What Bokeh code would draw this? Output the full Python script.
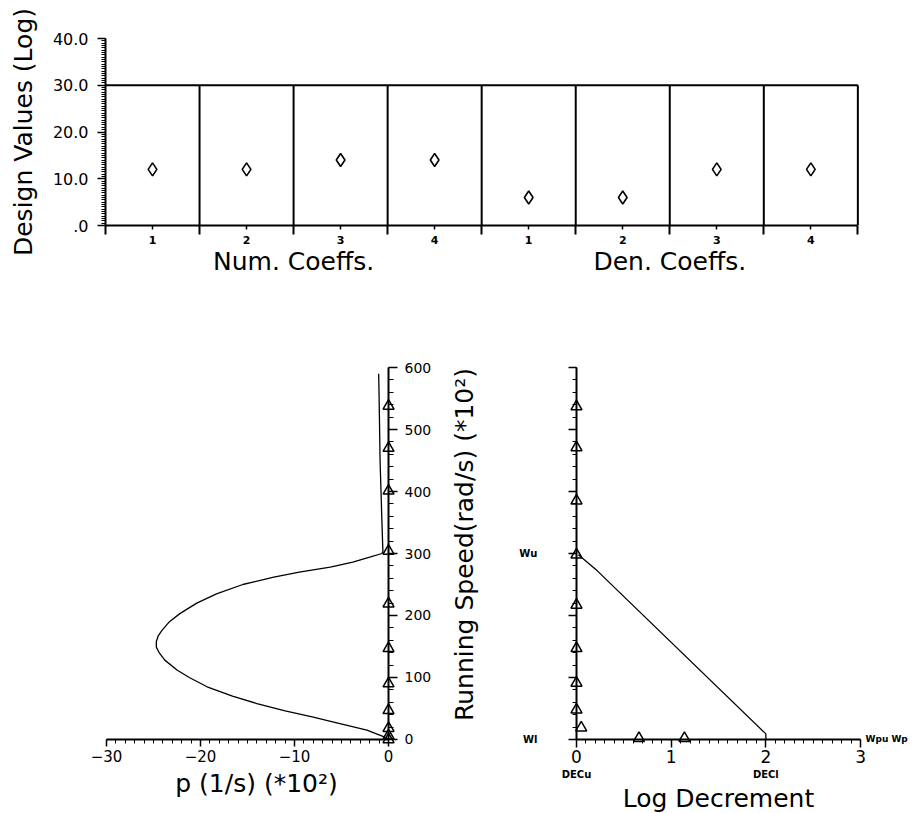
from bokeh.plotting import figure
from bokeh.models import Range1d, LinearAxis, FixedTicker
from bokeh.layouts import column, row
from bokeh.embed import file_html
from bokeh.resources import INLINE

# ---------------- data ----------------
coeff_positions = [1, 2, 3, 4, 5, 6, 7, 8]
coeff_tick_labels = ["1", "2", "3", "4", "1", "2", "3", "4"]
num_coeff_values = [12, 12, 14, 14]
den_coeff_values = [6, 6, 12, 12]
group_centers = [2.5, 6.5]
group_labels = ["Num. Coeffs.", "Den. Coeffs."]
design_ticks = [0, 10, 20, 30, 40]
design_tick_labels = [".0", "10.0", "20.0", "30.0", "40.0"]
design_box_top = 30

speed_ticks = [0, 100, 200, 300, 400, 500, 600]
speed_tick_labels = ["0", "100", "200", "300", "400", "500", "600"]
p_ticks = [-30, -20, -10, 0]
p_tick_labels = ["\u221230", "\u221220", "\u221210", "0"]

root_speed = [0, 5, 15, 31, 36, 46, 58, 70, 85, 100, 112, 128, 140, 149, 158, 167, 176,
              190, 203, 220, 235, 250, 262, 270, 278, 286, 294, 300, 303,
              350, 400, 450, 500, 550, 590]
root_p = [0, -0.6, -2.3, -6.6, -8.0, -11.0, -14.0, -16.6, -19.3, -21.2, -22.5, -23.8,
          -24.4, -24.7, -24.7, -24.5, -24.1, -23.3, -22.2, -20.4, -18.3, -15.5, -12.2,
          -9.5, -6.2, -3.8, -2.0, -0.7, -0.6, -0.7, -0.8, -0.9, -0.95, -1.0, -1.05]
eig_speed_left = [0, 6, 18, 47, 90, 147, 219, 304, 401, 470, 538]
eig_p_left = [0, 0, 0, 0, 0, 0, 0, 0, 0, 0, 0]

dec_ticks = [0, 1, 2, 3]
dec_tick_labels = ["0", "1", "2", "3"]
dec_limit_ticks = [0, 2]
dec_limit_labels = ["DECu", "DECl"]
speed_limit_ticks = [0, 300]
speed_limit_labels = ["Wl", "Wu"]
dec_line_x = [0.02, 0.22, 2.0, 2.0]
dec_line_speed = [298, 272, 9, 0]
eig_dec = [0.05, 0, 0, 0, 0, 0, 0, 0, 0, 0.66, 1.14]
eig_dec_speed = [19, 48, 91, 147, 217, 298, 385, 471, 537, 2, 2]

FONT = "DejaVu Sans"
BLACK = "#000000"
TITLE_SIZE = "25px"


def base_fig(**kw):
    p = figure(output_backend="svg", toolbar_location=None, tools="",
               background_fill_color="white", border_fill_color="white", **kw)
    p.outline_line_color = None
    p.xgrid.visible = False
    p.ygrid.visible = False
    return p


def style_axis(ax, size="15px", label_size=TITLE_SIZE):
    ax.axis_line_color = BLACK
    ax.axis_line_width = 2
    ax.major_tick_line_color = BLACK
    ax.major_tick_line_width = 1.5
    ax.minor_tick_line_color = BLACK
    ax.minor_tick_line_width = 1
    ax.major_tick_in = 0
    ax.minor_tick_in = 0
    ax.major_label_text_font = FONT
    ax.major_label_text_font_size = size
    ax.major_label_text_color = BLACK
    ax.axis_label_text_font = FONT
    ax.axis_label_text_font_size = label_size
    ax.axis_label_text_font_style = "normal"
    ax.axis_label_text_color = BLACK


def label_only(ax):
    ax.axis_line_color = None
    ax.major_tick_line_color = None
    ax.minor_tick_line_color = None
    ax.major_tick_out = 0
    ax.minor_tick_out = 0


def title_axis(label, location, bounds):
    """An axis that carries only its title (no line, ticks or tick labels)."""
    ax = LinearAxis(ticker=FixedTicker(ticks=[], minor_ticks=[]))
    style_axis(ax)
    label_only(ax)
    ax.fixed_location = location
    ax.bounds = bounds
    ax.axis_label = label
    ax.axis_label_standoff = 0
    return ax


# ---------------- top chart ----------------
top = base_fig(frame_width=758, frame_height=187,
               x_range=Range1d(0.5, 8.56), y_range=Range1d(0, 40),
               min_border_left=105, min_border_right=53,
               min_border_top=38, min_border_bottom=68)

xa = top.xaxis[0]
style_axis(xa, size="11px")
xa.bounds = (0.5, 8.5)
xa.ticker = FixedTicker(ticks=coeff_positions,
                        minor_ticks=[c - 0.5 for c in coeff_positions] + [coeff_positions[-1] + 0.5])
xa.major_label_overrides = {c: l for c, l in zip(coeff_positions, coeff_tick_labels)}
xa.major_label_text_font_style = "bold"
xa.major_tick_out = 4
xa.minor_tick_out = 9
xa.minor_tick_line_width = 2
xa.major_label_standoff = 1

gx = LinearAxis(ticker=FixedTicker(ticks=group_centers, minor_ticks=[]))
style_axis(gx, size=TITLE_SIZE)
label_only(gx)
gx.major_label_standoff = 0
gx.major_label_overrides = {c: l for c, l in zip(group_centers, group_labels)}
top.add_layout(gx, "below")

ya = top.yaxis[0]
style_axis(ya, size="16px")
ya.ticker = FixedTicker(ticks=design_ticks, minor_ticks=[i * 0.5 for i in range(81)])
ya.major_label_overrides = {t: l for t, l in zip(design_ticks, design_tick_labels)}
ya.major_tick_out = 8
ya.minor_tick_out = 4
ya.major_label_standoff = 9
ya.axis_label = "Design Values (Log)"
ya.axis_label_standoff = 12

top.line(x=[coeff_positions[0] - 0.5, coeff_positions[-1] + 0.5],
         y=[design_box_top, design_box_top], line_color=BLACK, line_width=2)
sep_x = [c + 0.5 for c in coeff_positions]
top.segment(x0=sep_x, y0=[0] * len(sep_x), x1=sep_x, y1=[design_box_top] * len(sep_x),
            line_color=BLACK, line_width=2)
top.scatter(x=coeff_positions[:4], y=num_coeff_values, marker="diamond", size=13,
            fill_color=None, line_color=BLACK, line_width=1.6)
top.scatter(x=coeff_positions[4:], y=den_coeff_values, marker="diamond", size=13,
            fill_color=None, line_color=BLACK, line_width=1.6)

# shared vertical scale for the bottom charts (speed, *10^2 rad/s)
SPEED_RANGE = (-119.4, 719.4)

# ---------------- bottom left: real part of roots ----------------
left = base_fig(frame_width=496, frame_height=520,
                x_range=Range1d(-40.85, 11.91), y_range=Range1d(*SPEED_RANGE),
                y_axis_location="right",
                min_border_left=4, min_border_right=0,
                min_border_top=0, min_border_bottom=0)
lx = left.xaxis[0]
style_axis(lx, size="15px")
lx.fixed_location = 0
lx.bounds = (-30, 0)
lx.ticker = FixedTicker(ticks=p_ticks, minor_ticks=list(range(-30, 1)))
lx.major_label_overrides = {t: l for t, l in zip(p_ticks, p_tick_labels)}
lx.major_tick_out = 7
lx.minor_tick_out = 4
lx.major_label_standoff = 4
left.add_layout(title_axis("p (1/s) (*10\u00b2)", -47, (-29, 1)), "below")

ly = left.yaxis[0]
style_axis(ly, size="14px")
ly.fixed_location = 0
ly.bounds = (0, 600)
ly.ticker = FixedTicker(ticks=speed_ticks, minor_ticks=list(range(0, 601, 20)))
ly.major_label_overrides = {t: l for t, l in zip(speed_ticks, speed_tick_labels)}
ly.major_tick_out = 9
ly.minor_tick_out = 5
ly.major_label_standoff = 7
left.add_layout(title_axis("Running Speed(rad/s) (*10\u00b2)", 9.6, (14, 614)), "left")

left.line(x=root_p, y=root_speed, line_color=BLACK, line_width=1.3)
left.scatter(x=eig_p_left, y=eig_speed_left, marker="triangle", size=11,
             fill_color=None, line_color=BLACK, line_width=1.5)

# ---------------- bottom right: log decrement ----------------
right = base_fig(frame_width=408, frame_height=520,
                 x_range=Range1d(-0.718, 3.591), y_range=Range1d(*SPEED_RANGE),
                 min_border_left=8, min_border_right=0,
                 min_border_top=0, min_border_bottom=0)
rx = right.xaxis[0]
style_axis(rx, size="17px")
rx.fixed_location = 0
rx.bounds = (0, 3)
rx.ticker = FixedTicker(ticks=dec_ticks, minor_ticks=[i / 10 for i in range(31)])
rx.major_label_overrides = {t: l for t, l in zip(dec_ticks, dec_tick_labels)}
rx.major_tick_out = 8
rx.minor_tick_out = 4
rx.major_label_standoff = 3

dx = LinearAxis(ticker=FixedTicker(ticks=dec_limit_ticks, minor_ticks=[]))
style_axis(dx, size="10px")
label_only(dx)
dx.fixed_location = -48
dx.bounds = (0, 3)
dx.major_label_standoff = 0
dx.major_label_text_font_style = "bold"
dx.major_label_overrides = {t: l for t, l in zip(dec_limit_ticks, dec_limit_labels)}
dx.axis_label = "Log Decrement"
dx.axis_label_standoff = 0
right.add_layout(dx, "below")

ry = right.yaxis[0]
style_axis(ry, size="10px")
ry.fixed_location = 0
ry.bounds = (0, 600)
ry.ticker = FixedTicker(ticks=speed_ticks, minor_ticks=list(range(0, 601, 20)))
ry.major_label_overrides = {t: "" for t in speed_ticks}
ry.major_label_overrides.update({t: l for t, l in zip(speed_limit_ticks, speed_limit_labels)})
ry.major_label_text_font_style = "bold"
ry.major_tick_out = 8
ry.minor_tick_out = 4
ry.major_label_standoff = 31

wp = LinearAxis(ticker=FixedTicker(ticks=[0], minor_ticks=[]))
style_axis(wp, size="9px")
label_only(wp)
wp.fixed_location = dec_ticks[-1]
wp.major_label_standoff = 5
wp.major_label_text_font_style = "bold"
wp.major_label_overrides = {0: "Wpu Wp"}
right.add_layout(wp, "right")

right.line(x=dec_line_x, y=dec_line_speed, line_color=BLACK, line_width=1.3)
right.scatter(x=eig_dec, y=eig_dec_speed, marker="triangle", size=11,
              fill_color=None, line_color=BLACK, line_width=1.5)

layout = column(top, row(left, right, spacing=0), spacing=0)
open("out.html", "w").write(file_html(layout, INLINE))
